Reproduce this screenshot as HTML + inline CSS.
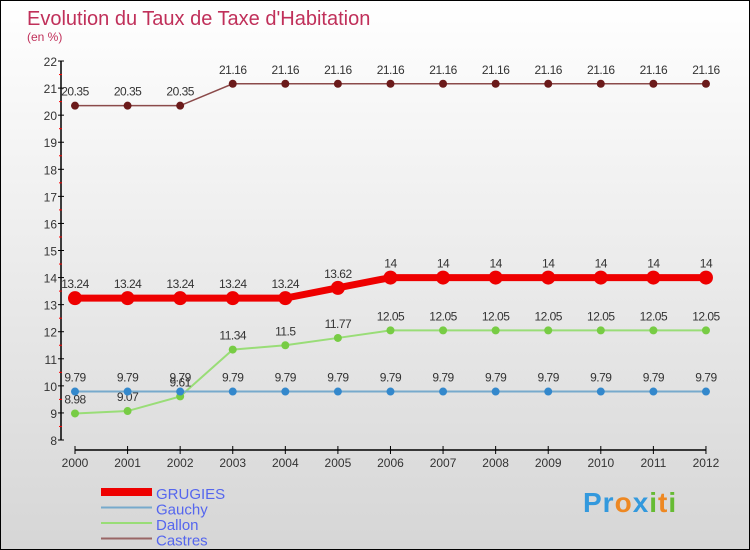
<!DOCTYPE html>
<html><head><meta charset="utf-8"><style>
body{margin:0}
#c{width:750px;height:550px;position:relative;box-sizing:border-box;border:1px solid #000;background:linear-gradient(#fff,#d6d6d6);overflow:hidden;font-family:"Liberation Sans",sans-serif}
</style></head><body>
<div id="c">
<svg id="s" width="748" height="548" xmlns="http://www.w3.org/2000/svg">
<text x="26" y="24" font-size="20" fill="#c0305a">Evolution du Taux de Taxe d'Habitation</text>
<text x="26" y="40" font-size="12" fill="#c0305a">(en %)</text>
</svg>
<div style="position:absolute;left:582px;top:486px;font-size:28px;font-weight:bold;letter-spacing:1px"><span style="color:#3399dd">Pr</span><span style="color:#ee8822">o</span><span style="color:#3399dd">x</span><span style="color:#66bb33">i</span><span style="color:#ee8822">t</span><span style="color:#66bb33">i</span></div>
</div>
<script>
const years=[2000,2001,2002,2003,2004,2005,2006,2007,2008,2009,2010,2011,2012];
const yTicks=[8,9,10,11,12,13,14,15,16,17,18,19,20,21,22];
const grugies=[13.24,13.24,13.24,13.24,13.24,13.62,14,14,14,14,14,14,14];
const gauchy=[9.79,9.79,9.79,9.79,9.79,9.79,9.79,9.79,9.79,9.79,9.79,9.79,9.79];
const dallon=[8.98,9.07,9.61,11.34,11.5,11.77,12.05,12.05,12.05,12.05,12.05,12.05,12.05];
const castres=[20.35,20.35,20.35,21.16,21.16,21.16,21.16,21.16,21.16,21.16,21.16,21.16,21.16];
const NS="http://www.w3.org/2000/svg",s=document.getElementById('s');
const X=i=>74+i*52.58, Y=v=>439-(v-8)*27.07;
function el(t,a,txt){const e=document.createElementNS(NS,t);for(const k in a)e.setAttribute(k,a[k]);if(txt!==undefined)e.textContent=txt;s.appendChild(e);return e;}
let e=el('line',{x1:60,y1:Y(22),x2:60,y2:Y(8),stroke:'#000','stroke-width':1.5});


e=el('line',{x1:74,y1:449,x2:X(12),y2:449,stroke:'#000','stroke-width':1.5});


yTicks.forEach(v=>{
 el('line',{x1:57,y1:Y(v),x2:63,y2:Y(v),stroke:'#000'});
 if(v<22){el('line',{x1:58,y1:Y(v+0.5),x2:61,y2:Y(v+0.5),stroke:'#f00'});}
 const t=el('text',{x:56,y:Y(v)+5,'font-size':12,fill:'#333','text-anchor':'end'},v);
 
 
});
years.forEach((y,i)=>{
 el('line',{x1:X(i),y1:445,x2:X(i),y2:453,stroke:'#000'});
 const t=el('text',{x:X(i),y:466,'font-size':12,fill:'#333','text-anchor':'middle'},y);
 
 
});
function series(d,col,dot,w,r,name){
 const p=el('polyline',{points:d.map((v,i)=>X(i)+','+Y(v)).join(' '),fill:'none',stroke:col,'stroke-width':w});
 
 
 d.forEach((v,i)=>{
  const c=el('circle',{cx:X(i),cy:Y(v),r:r,fill:dot});
  
  
  const t=el('text',{x:X(i),y:Y(v)-10,'font-size':12,fill:'#333','text-anchor':'middle','letter-spacing':'-0.5'},v);
  
  
 });
}
series(castres,'#8b4a4a','#6b1a1a',1.5,4,'castres');
series(dallon,'#99dd77','#77cc44',2,4,'dallon');
series(gauchy,'#77aacc','#3388cc',2,4,'gauchy');
series(grugies,'#ee0000','#ee0000',7,7,'grugies');
const leg=[['GRUGIES','#ee0000',8],['Gauchy','#77aacc',2],['Dallon','#99dd77',2],['Castres','#996666',2]];
leg.forEach((l,i)=>{
 const y=491+i*15.5;
 const ln=el('line',{x1:100,y1:y,x2:151,y2:y,stroke:l[1],'stroke-width':l[2]});
 
 
 const t=el('text',{x:155,y:y+7,'font-size':15,fill:'#5566ee'},l[0]);
 
 
});
</script>
</body></html>
